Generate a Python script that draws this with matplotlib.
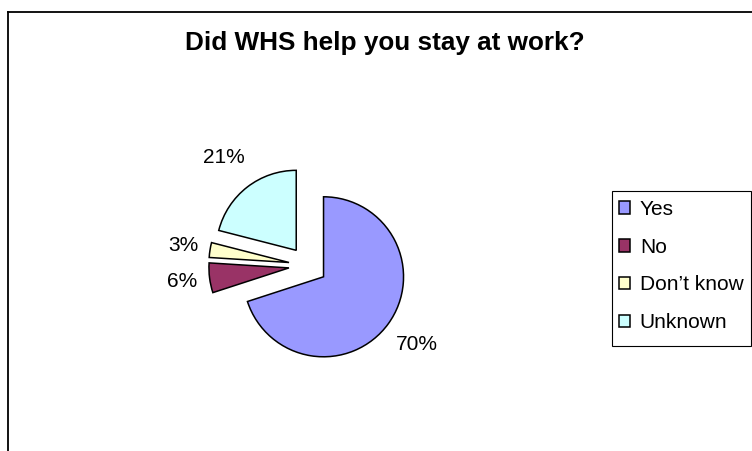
import math
import matplotlib
matplotlib.use('Agg')
import matplotlib.pyplot as plt
from matplotlib.lines import Line2D
from matplotlib.patches import Rectangle

plt.rcParams['font.family'] = ['Liberation Sans', 'DejaVu Sans']

# Datos de la gráfica
categorias = ['Yes', 'No', "Don\u2019t know", 'Unknown']
valores = [70, 6, 3, 21]
colores = ['#9999FF', '#993366', '#FFFFCC', '#CCFFFF']
titulo = 'Did WHS help you stay at work?'

# distancia de cada etiqueta al centro (en radios)
dist_etiquetas = [1.68, 1.58, 1.58, 1.71]

W, H = 752, 451
fig = plt.figure(figsize=(W / 100, H / 100), dpi=100)

# Ejes del pastel: 80 px por unidad, centro en (308, 265) px
cx, cy = 308, H - 265.5
ax = fig.add_axes([(cx - 160) / W, (cy - 160) / H, 320 / W, 320 / H])
wedges, textos, pcts = ax.pie(valores, explode=[0.24] * 4, colors=colores,
                              startangle=90, counterclock=False,
                              autopct='%1.0f%%', pctdistance=1.42,
                              wedgeprops=dict(edgecolor='black', linewidth=1.1),
                              textprops=dict(fontsize=15))
# mover las etiquetas a lo largo de la bisectriz de cada porción
for t, d in zip(pcts, dist_etiquetas):
    x, y = t.get_position()
    s = d / math.hypot(x, y)
    t.set_position((x * s, y * s))
ax.set_xlim(-2, 2)
ax.set_ylim(-2, 2)
ax.set_aspect('equal')
ax.axis('off')

# Titulo
fig.text(385 / W, 1 - 50 / H, titulo, ha='center', va='baseline',
         fontsize=18.8, fontweight='bold')

# Borde exterior del area del grafico
fig.add_artist(Line2D([8 / W, 8 / W], [0, 1 - 12 / H], color='black',
                      linewidth=1.3, transform=fig.transFigure))
fig.add_artist(Line2D([8 / W, 1], [1 - 12 / H, 1 - 12 / H], color='black',
                      linewidth=1.3, transform=fig.transFigure))

# Caja de la leyenda
fig.add_artist(Rectangle((612 / W, 1 - 346 / H), (751 - 612) / W, (346 - 191) / H,
                         fill=False, edgecolor='black', linewidth=0.8,
                         transform=fig.transFigure))
fig.legend(wedges, categorias, loc='upper left',
           bbox_to_anchor=(619 / W, 1 - 200 / H), frameon=False, fontsize=15,
           handlelength=0.55, handleheight=0.55, handletextpad=0.45,
           labelspacing=0.9, borderpad=0, borderaxespad=0)

fig.savefig('out.png', dpi=100)
